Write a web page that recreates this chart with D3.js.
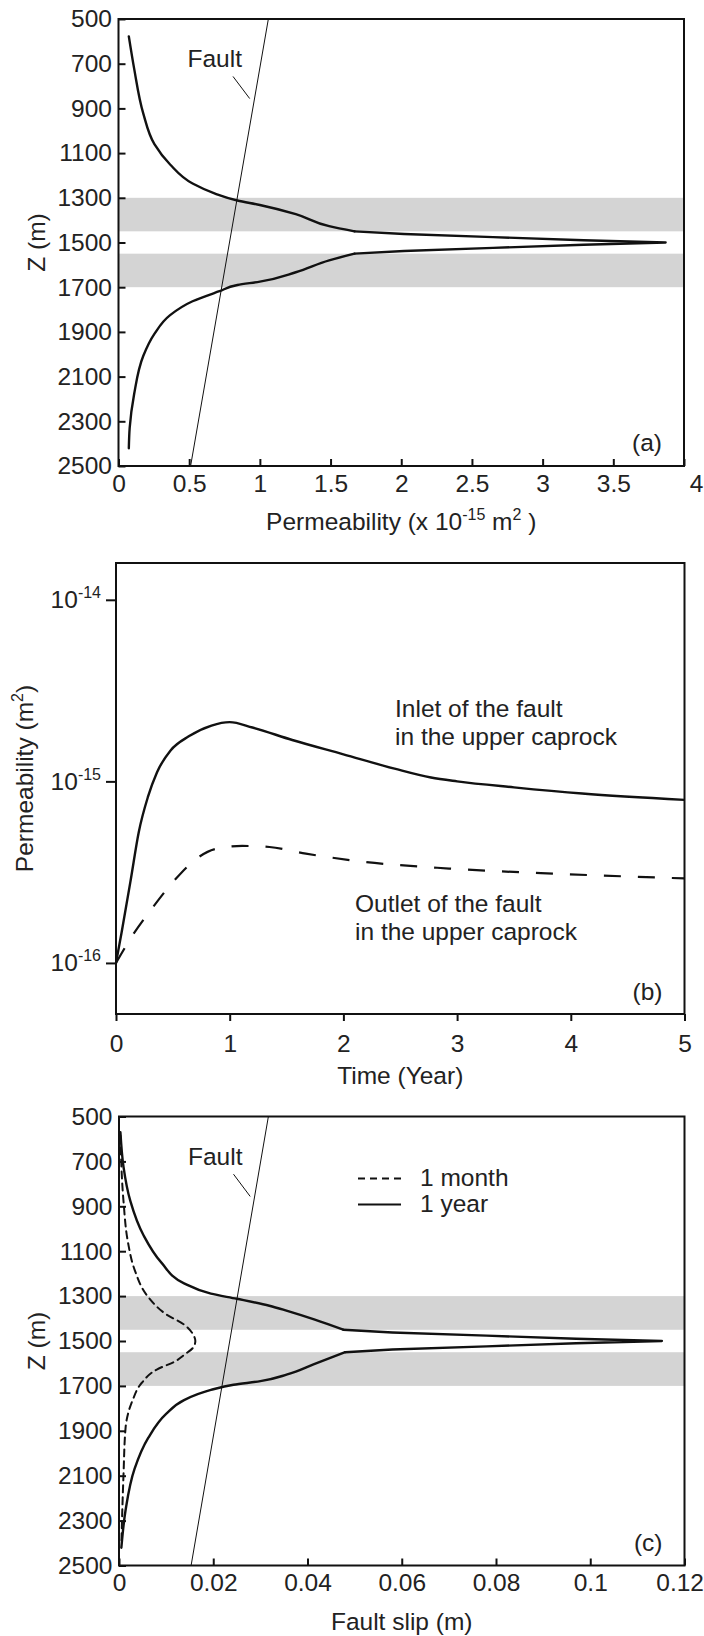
<!DOCTYPE html>
<html>
<head>
<meta charset="utf-8">
<script src="https://cdn.jsdelivr.net/npm/d3@7"></script>
<style>
  body { margin: 0; background: #fff; }
  svg { display: block; font-family: Arial, "Liberation Sans", sans-serif; }
</style>
</head>
<body>
<svg id="chart" width="704" height="1636"></svg>
<script>
// ---- data ----
// (a) permeability profile along the fault, x 10^-15 m2
const depthA = [578, 723, 922, 1060, 1151, 1236, 1281, 1312, 1332, 1373, 1427, 1450,
  1462, 1476, 1490, 1500, 1510, 1524, 1538, 1550,
  1580, 1633, 1675, 1690, 1718, 1763, 1825, 1909, 2008, 2177, 2330, 2421];
const permA = [0.073, 0.111, 0.175, 0.254, 0.365, 0.524, 0.683, 0.841, 1.0, 1.254, 1.49, 1.67,
  2.02, 2.65, 3.29, 3.87, 3.29, 2.65, 2.02, 1.67,
  1.49, 1.254, 1.0, 0.841, 0.714, 0.524, 0.365, 0.254, 0.175, 0.111, 0.079, 0.073];
const faultDepth = [500, 2500];
const faultPermA = [1.06, 0.51];
const caprockBands = [[1300, 1450], [1550, 1700]];
const depthTicks = [500, 700, 900, 1100, 1300, 1500, 1700, 1900, 2100, 2300, 2500];
const permTicks = [0, 0.5, 1, 1.5, 2, 2.5, 3, 3.5, 4];

// (b) permeability vs time, m2
const timeInlet = [0, 0.05, 0.13, 0.2, 0.28, 0.36, 0.48, 0.64, 0.84, 1.0, 1.2, 1.55, 2.0, 2.45, 2.77, 3.0, 3.5, 4.1, 5.0];
const permInlet = [1.0e-16, 1.48e-16, 2.88e-16, 5.25e-16, 8.18e-16, 1.12e-15, 1.48e-15, 1.77e-15, 2.03e-15, 2.12e-15,
  1.98e-15, 1.69e-15, 1.41e-15, 1.175e-15, 1.05e-15, 1.0e-15, 9.27e-16, 8.57e-16, 7.91e-16];
const timeOutlet = [0, 0.13, 0.32, 0.52, 0.72, 0.88, 1.11, 1.35, 1.67, 2.14, 2.93, 3.92, 5.0];
const permOutlet = [1.0e-16, 1.37e-16, 2.01e-16, 2.88e-16, 3.8e-16, 4.25e-16, 4.41e-16, 4.35e-16, 4.0e-16,
  3.63e-16, 3.31e-16, 3.09e-16, 2.92e-16];
const timeTicks = [0, 1, 2, 3, 4, 5];
const permLogTicks = [1e-14, 1e-15, 1e-16];

// (c) fault slip profiles, m
const depthYear = [570, 723, 876, 1029, 1151, 1243, 1289, 1312, 1343, 1366, 1404, 1450,
  1462, 1476, 1490, 1500, 1510, 1524, 1538, 1550,
  1603, 1649, 1679, 1695, 1718, 1763, 1825, 1932, 2070, 2253, 2421];
const slipYear = [0.0003, 0.00095, 0.0024, 0.0052, 0.009, 0.0138, 0.0195, 0.025, 0.0319, 0.0357, 0.0414, 0.0476,
  0.058, 0.078, 0.097, 0.1152, 0.097, 0.078, 0.058, 0.048,
  0.0414, 0.0357, 0.030, 0.0243, 0.0195, 0.0138, 0.010, 0.0062, 0.0033, 0.0014, 0.0005];
const depthMonth = [585, 876, 1060, 1182, 1304, 1381, 1427, 1470, 1500, 1530, 1562, 1590, 1626, 1687, 1763, 1886, 2100, 2406];
const slipMonth = [0.0003, 0.00095, 0.0019, 0.0033, 0.0062, 0.010, 0.0138, 0.0157, 0.0162, 0.0157, 0.0138, 0.0120,
  0.0081, 0.0048, 0.0029, 0.0014, 0.00095, 0.0005];
const faultSlipC = [0.0317, 0.0153];
const slipTicks = [0, 0.02, 0.04, 0.06, 0.08, 0.1, 0.12];

// ---- shared styles ----
const ink = "#111";
const fontSize = 24.5;
const supSize = 16;
const svg = d3.select("#chart");

function styleAxis(g) {
  g.select(".domain").remove();
  g.selectAll(".tick line").attr("stroke", ink).attr("stroke-width", 2);
  g.selectAll(".tick text").attr("fill", "#222").attr("font-size", fontSize);
}

function drawFrame(g, w, h) {
  g.append("rect")
    .attr("width", w).attr("height", h)
    .attr("fill", "none").attr("stroke", ink).attr("stroke-width", 2);
}

// text with superscripts: parts = [[text, isSup], ...]
function richText(sel, parts) {
  parts.forEach(([t, sup], i) => {
    const prevSup = i > 0 && parts[i - 1][1];
    sel.append("tspan")
      .attr("font-size", sup ? supSize : fontSize)
      .attr("dy", sup ? -10 : (prevSup ? 10 : 0))
      .text(t);
  });
}

// profile with a sharp peak: smooth tails, straight spike between the corners
function drawProfile(p, depths, values, width, dash) {
  const pts = depths.map((z, i) => [values[i], z]);
  const c1 = depths.indexOf(1450), c2 = depths.indexOf(1550);
  const smooth = d3.line().curve(d3.curveMonotoneY).x(d => p.x(d[0])).y(d => p.y(d[1]));
  const straight = d3.line().x(d => p.x(d[0])).y(d => p.y(d[1]));
  const segs = c1 < 0 ? [[pts, smooth]]
    : [[pts.slice(0, c1 + 1), smooth], [pts.slice(c1, c2 + 1), straight], [pts.slice(c2), smooth]];
  segs.forEach(([seg, gen]) => {
    p.g.append("path")
      .datum(seg)
      .attr("fill", "none").attr("stroke", ink).attr("stroke-width", width)
      .attr("stroke-linejoin", "round").attr("stroke-linecap", "round")
      .attr("stroke-dasharray", dash)
      .attr("d", gen);
  });
}

// ---- depth panels (a) and (c) ----
function depthPanel(box, xDomain, xTicks, label, tag) {
  const w = box.right - box.left, h = box.bottom - box.top;
  const x = d3.scaleLinear().domain(xDomain).range([0, w]);
  const y = d3.scaleLinear().domain([500, 2500]).range([0, h]);
  const g = svg.append("g").attr("transform", `translate(${box.left},${box.top})`);

  // caprock bands
  g.selectAll("rect.band")
    .data(caprockBands)
    .join("rect")
      .attr("class", "band")
      .attr("x", 0)
      .attr("width", w)
      .attr("y", d => y(d[0]))
      .attr("height", d => y(d[1]) - y(d[0]))
      .attr("fill", "#d4d4d4");

  g.append("g")
    .call(d3.axisLeft(y).tickValues(depthTicks).tickSizeInner(-7).tickSizeOuter(0).tickPadding(6.5)
      .tickFormat(d => String(d)))
    .call(styleAxis);
  const xAxis = g.append("g")
    .attr("transform", `translate(0,${h})`)
    .call(d3.axisBottom(x).tickValues(xTicks).tickSizeInner(-7).tickSizeOuter(0).tickPadding(8.5)
      .tickFormat(d => String(+d.toFixed(2))))
    .call(styleAxis);
  // keep the last label inside the page
  xAxis.selectAll(".tick:last-of-type text").attr("text-anchor", "end").attr("x", 19);

  drawFrame(g, w, h);

  g.append("text")
    .attr("x", w - 22).attr("y", h - 15)
    .attr("text-anchor", "end").attr("font-size", fontSize).attr("fill", "#222")
    .text(tag);

  // y label
  svg.append("text")
    .attr("transform", `translate(45,${box.top + h / 2}) rotate(-90)`)
    .attr("text-anchor", "middle").attr("font-size", fontSize).attr("fill", "#222")
    .text("Z (m)");

  // x label
  const xl = svg.append("text")
    .attr("x", box.left + w / 2).attr("y", box.bottom + 64)
    .attr("text-anchor", "middle").attr("fill", "#222").attr("font-size", fontSize);
  richText(xl, label);

  return { g, x, y, w, h };
}

function drawFault(p, faultX) {
  const pts = faultDepth.map((z, i) => [faultX[i], z]);
  p.g.append("path")
    .datum(pts)
    .attr("fill", "none").attr("stroke", ink).attr("stroke-width", 1)
    .attr("d", d3.line().x(d => p.x(d[0])).y(d => p.y(d[1])));
  // label + leader
  const span = p.x.domain()[1];
  p.g.append("text")
    .attr("x", p.x(0.122 * span)).attr("y", p.y(715))
    .attr("font-size", fontSize).attr("fill", "#222")
    .text("Fault");
  p.g.append("line")
    .attr("x1", p.x(0.2025 * span)).attr("y1", p.y(757))
    .attr("x2", p.x(0.232 * span)).attr("y2", p.y(856))
    .attr("stroke", ink).attr("stroke-width", 1);
}

// (a)
const pA = depthPanel({ left: 118.5, right: 684, top: 19, bottom: 466 }, [0, 4], permTicks,
  [["Permeability (x 10", false], ["-15", true], [" m", false], ["2", true], [" )", false]], "(a)");
drawFault(pA, faultPermA);
drawProfile(pA, depthA, permA, 2.4, null);

// (c)
const pC = depthPanel({ left: 119, right: 684.5, top: 1116.5, bottom: 1565.5 }, [0, 0.12], slipTicks,
  [["Fault slip (m)", false]], "(c)");
drawFault(pC, faultSlipC);
drawProfile(pC, depthMonth, slipMonth, 2, "7,5");
drawProfile(pC, depthYear, slipYear, 2.4, null);

// legend (c)
const legend = pC.g.append("g").attr("transform", "translate(239,62)");
[["1 month", "7,5"], ["1 year", null]].forEach(([name, dash], i) => {
  legend.append("line")
    .attr("x1", 0).attr("x2", 43).attr("y1", i * 26).attr("y2", i * 26)
    .attr("stroke", ink).attr("stroke-width", 2).attr("stroke-dasharray", dash);
  legend.append("text")
    .attr("x", 62).attr("y", i * 26 + 7)
    .attr("font-size", fontSize).attr("fill", "#222")
    .text(name);
});

// ---- (b) permeability vs time ----
const boxB = { left: 116, right: 684.5, top: 563, bottom: 1014 };
const wB = boxB.right - boxB.left, hB = boxB.bottom - boxB.top;
const xB = d3.scaleLinear().domain([0, 5]).range([0, wB]);
const yB = d3.scaleLog().domain([5.233e-17, 1.595e-14]).range([hB, 0]);
const gB = svg.append("g").attr("transform", `translate(${boxB.left},${boxB.top})`);

const yAxisB = gB.append("g")
  .call(d3.axisLeft(yB).tickValues(permLogTicks).tickSizeInner(10).tickSizeOuter(0).tickPadding(5))
  .call(styleAxis);
yAxisB.selectAll(".tick text").each(function (d) {
  const t = d3.select(this).text("");
  const exp = Math.round(Math.log10(d));
  t.append("tspan").text("10");
  t.append("tspan").attr("font-size", supSize).attr("dy", -10).text(String(exp));
});
gB.append("g")
  .attr("transform", `translate(0,${hB})`)
  .call(d3.axisBottom(xB).tickValues(timeTicks).tickSizeInner(7).tickSizeOuter(0).tickPadding(13.5)
    .tickFormat(d => String(d)))
  .call(styleAxis);

drawFrame(gB, wB, hB);

const lineB = d3.line().curve(d3.curveMonotoneX).x(d => xB(d[0])).y(d => yB(d[1]));
gB.append("path")
  .datum(timeInlet.map((t, i) => [t, permInlet[i]]))
  .attr("fill", "none").attr("stroke", ink).attr("stroke-width", 2.4)
  .attr("d", lineB);
gB.append("path")
  .datum(timeOutlet.map((t, i) => [t, permOutlet[i]]))
  .attr("fill", "none").attr("stroke", ink).attr("stroke-width", 2.2).attr("stroke-dasharray", "17,17")
  .attr("d", lineB);

[["Inlet of the fault", 279, 153.7], ["in the upper caprock", 279, 182],
 ["Outlet of the fault", 239, 348.7], ["in the upper caprock", 239, 377]].forEach(([t, x, y]) => {
  gB.append("text").attr("x", x).attr("y", y)
    .attr("font-size", fontSize).attr("fill", "#222").text(t);
});
gB.append("text")
  .attr("x", wB - 22).attr("y", hB - 14)
  .attr("text-anchor", "end").attr("font-size", fontSize).attr("fill", "#222")
  .text("(b)");

const ylB = svg.append("text")
  .attr("transform", `translate(33,${boxB.top + hB / 2 - 10}) rotate(-90)`)
  .attr("text-anchor", "middle").attr("font-size", fontSize).attr("fill", "#222");
richText(ylB, [["Permeability (m", false], ["2", true], [")", false]]);

svg.append("text")
  .attr("x", boxB.left + wB / 2).attr("y", boxB.bottom + 70)
  .attr("text-anchor", "middle").attr("font-size", fontSize).attr("fill", "#222")
  .text("Time (Year)");
</script>
</body>
</html>
